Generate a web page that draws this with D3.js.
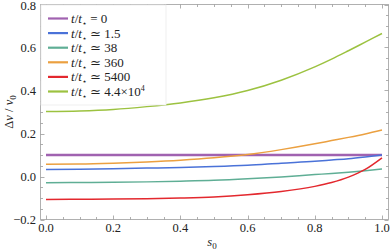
<!DOCTYPE html>
<html>
<head>
<meta charset="utf-8">
<script src="https://cdn.jsdelivr.net/npm/d3@7"></script>
<style>
body { margin: 0; background: #fff; }
svg text { font-family: "Liberation Serif", "DejaVu Serif", serif; }
</style>
</head>
<body>
<svg width="390" height="252"></svg>
<script>
// values
var s0 = [0, 0.1, 0.2, 0.3, 0.4, 0.5, 0.6, 0.7, 0.8, 0.85, 0.9, 0.95, 1.0];
var dv0    = [0.1, 0.1, 0.1, 0.1, 0.1, 0.1, 0.1, 0.1, 0.1, 0.1, 0.1, 0.1, 0.1];
var dv1p5  = [0.033, 0.034, 0.036, 0.039, 0.042, 0.046, 0.052, 0.062, 0.071, 0.077, 0.083, 0.091, 0.100];
var dv38   = [-0.029, -0.028, -0.027, -0.025, -0.022, -0.018, -0.011, -0.002, 0.009, 0.014, 0.020, 0.027, 0.035];
var dv360  = [0.057, 0.058, 0.062, 0.068, 0.076, 0.087, 0.102, 0.125, 0.152, 0.167, 0.182, 0.198, 0.216];
var dv5400 = [-0.107, -0.106, -0.105, -0.103, -0.100, -0.095, -0.085, -0.070, -0.046, -0.028, -0.003, 0.033, 0.087];
var dv44e3 = [0.302, 0.305, 0.312, 0.325, 0.342, 0.366, 0.400, 0.448, 0.510, 0.546, 0.585, 0.625, 0.665];
var labels = ['= 0', '\u2243 1.5', '\u2243 38', '\u2243 360', '\u2243 5400', '\u2243 4.4\u00d710'];
var colors = ['#a062b0', '#4a72d8', '#5fae95', '#eba040', '#e3282e', '#9cc240'];
var xTicks = [0, 0.2, 0.4, 0.6, 0.8, 1.0];
var yTicks = [-0.2, 0, 0.2, 0.4, 0.6, 0.8];

var series = [dv0, dv1p5, dv38, dv360, dv5400, dv44e3];

var svg = d3.select('svg');
var x = d3.scaleLinear().domain([0, 1]).range([46, 382]);
var y = d3.scaleLinear().domain([-0.2, 0.8]).range([219.5, 4.5]);
var fx0 = 40.5, fx1 = 388.5, fy0 = 4.5, fy1 = 219.5;

// frame
svg.append('rect').attr('x', fx0).attr('y', fy0).attr('width', fx1 - fx0).attr('height', fy1 - fy0)
  .attr('fill', 'none').attr('stroke', '#b0b0b0').attr('stroke-width', 1);

// ticks
var minorX = d3.range(0, 1.0001, 0.05);
var minorY = d3.range(-0.2, 0.8001, 0.05);
function isMajor(v) { return Math.abs(v / 0.2 - Math.round(v / 0.2)) < 1e-6; }
var tk = svg.append('g').attr('stroke', '#9a9a9a').attr('stroke-width', 0.8);
minorX.forEach(function (v) {
  var L = isMajor(v) ? 4 : 2.5, px = Math.round(x(v)) + 0.5;
  tk.append('line').attr('x1', px).attr('x2', px).attr('y1', fy1).attr('y2', fy1 - L);
  tk.append('line').attr('x1', px).attr('x2', px).attr('y1', fy0).attr('y2', fy0 + L);
});
minorY.forEach(function (v) {
  var L = isMajor(v) ? 4 : 2.5, py = Math.round(y(v)) + 0.5;
  tk.append('line').attr('x1', fx0).attr('x2', fx0 + L).attr('y1', py).attr('y2', py);
  tk.append('line').attr('x1', fx1).attr('x2', fx1 - L).attr('y1', py).attr('y2', py);
});

// tick labels
var fmt = function (v) { var t = d3.format('.1f')(Math.abs(v)); return (v < -1e-9 ? '\u2212' : '') + t; };
svg.selectAll('.xl').data(xTicks).enter().append('text')
  .attr('x', function (d) { return x(d); }).attr('y', 232)
  .attr('text-anchor', 'middle').attr('font-size', 12.5).attr('fill', '#222')
  .text(fmt);
svg.selectAll('.yl').data(yTicks).enter().append('text')
  .attr('x', 36).attr('y', function (d) { return Math.max(y(d) + 4.5, 10); })
  .attr('text-anchor', 'end').attr('font-size', 12.5).attr('fill', '#222')
  .text(fmt);

// axis labels
var xl = svg.append('text').attr('x', 212).attr('y', 246).attr('text-anchor', 'middle')
  .attr('font-size', 12.5).attr('fill', '#222');
xl.append('tspan').attr('font-style', 'italic').text('s');
xl.append('tspan').attr('font-size', 9).attr('dy', 3).text('0');

var yl = svg.append('text').attr('transform', 'translate(13,112) rotate(-90)')
  .attr('text-anchor', 'middle').attr('font-size', 12.5).attr('fill', '#222');
yl.append('tspan').text('\u0394');
yl.append('tspan').attr('font-style', 'italic').text('v');
yl.append('tspan').text(' / ');
yl.append('tspan').attr('font-style', 'italic').text('v');
yl.append('tspan').attr('font-size', 9).attr('dy', 3).text('0');

// lines
var line = d3.line().x(function (d) { return x(d[0]); }).y(function (d) { return y(d[1]); })
  .curve(d3.curveMonotoneX);
series.forEach(function (vals, i) {
  svg.append('path').datum(s0.map(function (s, j) { return [s, vals[j]]; }))
    .attr('d', line).attr('fill', 'none').attr('stroke', colors[i])
    .attr('stroke-width', i === 0 ? 2.6 : 1.5);
});

// legend
svg.append('rect').attr('x', fx0 + 0.5).attr('y', fy0 + 0.5).attr('width', 125).attr('height', 100)
  .attr('fill', '#fff').attr('stroke', '#ececec').attr('stroke-width', 0.8);
labels.forEach(function (lab, i) {
  var ly = 18.5 + i * 14.6;
  svg.append('line').attr('x1', 48).attr('x2', 68).attr('y1', ly).attr('y2', ly)
    .attr('stroke', colors[i]).attr('stroke-width', 2.2);
  var t = svg.append('text').attr('x', 71).attr('y', ly + 4.5).attr('font-size', 13).attr('fill', '#222');
  t.append('tspan').attr('font-style', 'italic').text('t');
  t.append('tspan').text('/');
  t.append('tspan').attr('font-style', 'italic').text('t');
  t.append('tspan').attr('font-size', 8).attr('dy', 3).text('\u22c6');
  t.append('tspan').attr('dy', -3).text(' ' + lab);
  if (i === 5) t.append('tspan').attr('font-size', 8).attr('dy', -5).text('4');
});
</script>
</body>
</html>
